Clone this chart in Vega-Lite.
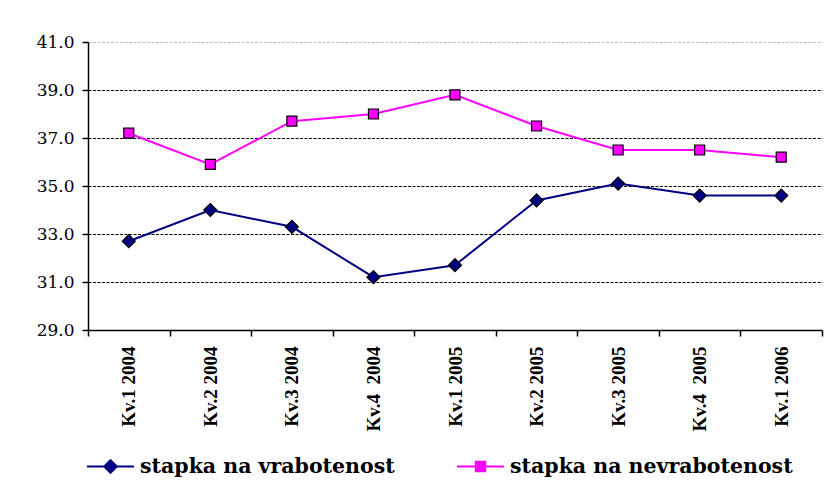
{
  "$schema": "https://vega.github.io/schema/vega-lite/v6.json",
  "width": 734,
  "height": 288,
  "autosize": {"type": "none"},
  "padding": {"left": 88, "top": 42, "right": 7, "bottom": 152},
  "background": "white",
  "config": {"view": {"stroke": null}},
  "data": {"values": [
    {"q": "Kv.1 2004", "series": "stapka na vrabotenost", "v": 32.7},
    {"q": "Kv.2 2004", "series": "stapka na vrabotenost", "v": 34.0},
    {"q": "Kv.3 2004", "series": "stapka na vrabotenost", "v": 33.3},
    {"q": "Kv.4 \u00a02004", "series": "stapka na vrabotenost", "v": 31.2},
    {"q": "Kv.1 2005", "series": "stapka na vrabotenost", "v": 31.7},
    {"q": "Kv.2 2005", "series": "stapka na vrabotenost", "v": 34.4},
    {"q": "Kv.3 2005", "series": "stapka na vrabotenost", "v": 35.1},
    {"q": "Kv.4 \u00a02005", "series": "stapka na vrabotenost", "v": 34.6},
    {"q": "Kv.1 2006", "series": "stapka na vrabotenost", "v": 34.6},
    {"q": "Kv.1 2004", "series": "stapka na nevrabotenost", "v": 37.2},
    {"q": "Kv.2 2004", "series": "stapka na nevrabotenost", "v": 35.9},
    {"q": "Kv.3 2004", "series": "stapka na nevrabotenost", "v": 37.7},
    {"q": "Kv.4 \u00a02004", "series": "stapka na nevrabotenost", "v": 38.0},
    {"q": "Kv.1 2005", "series": "stapka na nevrabotenost", "v": 38.8},
    {"q": "Kv.2 2005", "series": "stapka na nevrabotenost", "v": 37.5},
    {"q": "Kv.3 2005", "series": "stapka na nevrabotenost", "v": 36.5},
    {"q": "Kv.4 \u00a02005", "series": "stapka na nevrabotenost", "v": 36.5},
    {"q": "Kv.1 2006", "series": "stapka na nevrabotenost", "v": 36.2}
  ]},
  "encoding": {
    "x": {
      "field": "q", "type": "nominal", "sort": null, "bandPosition": 0.5,
      "scale": {"type": "band", "paddingInner": 0, "paddingOuter": 0},
      "axis": {
        "title": null, "labelAngle": -90, "labelAlign": "right", "labelBaseline": "middle",
        "labelFont": "Liberation Serif", "labelFontWeight": "bold", "labelFontSize": 19,
        "labelColor": "black", "labelPadding": 10, "tickBand": "extent", "tickSize": 6,
        "tickColor": "black", "domainColor": "black", "domainWidth": 1.5, "tickWidth": 1.5,
        "grid": false, "labelLimit": 200
      }
    },
    "y": {
      "field": "v", "type": "quantitative",
      "scale": {"domain": [29, 41], "zero": false, "nice": false},
      "axis": {
        "title": null, "values": [29, 31, 33, 35, 37, 39, 41], "format": ".1f",
        "labelFont": "DejaVu Serif", "labelFontSize": 17, "labelColor": "black",
        "labelPadding": 8, "tickSize": 6, "tickColor": "black", "tickWidth": 1.5,
        "domainColor": "black", "domainWidth": 1.5,
        "grid": true, "gridDash": [3, 1.5], "gridWidth": 1.2,
        "gridColor": {"condition": {"test": "datum.value === 41", "value": "#bbbbbb"}, "value": "black"}
      }
    }
  },
  "layer": [
    {
      "mark": {"type": "line", "strokeWidth": 2},
      "encoding": {
        "color": {
          "field": "series", "type": "nominal",
          "scale": {"domain": ["stapka na vrabotenost", "stapka na nevrabotenost"], "range": ["#000080", "#ff00ff"]},
          "legend": {
            "orient": "none", "legendX": -2, "legendY": 400, "direction": "horizontal", "title": null,
            "symbolSize": 2209, "symbolStrokeWidth": 2,
            "labelFont": "DejaVu Serif", "labelFontWeight": "bold", "labelFontSize": 20.5,
            "labelColor": "black", "labelOffset": 5, "columnPadding": 58, "labelLimit": 400,
            "encode": {
              "symbols": {
                "update": {
                  "shape": {"signal": "datum.value === 'stapka na vrabotenost' ? 'M-1,0H1M0,-0.27L0.27,0L0,0.27L-0.27,0Z' : 'M-1,0H-0.2M0.2,0H1M-0.2,-0.2H0.2V0.2H-0.2Z'"},
                  "fill": {"scale": "color", "field": "value"},
                  "fillOpacity": {"value": 1}
                }
              }
            }
          }
        }
      }
    },
    {
      "transform": [{"filter": "datum.series === 'stapka na vrabotenost'"}],
      "mark": {"type": "point", "shape": "diamond", "size": 170, "filled": true, "fill": "#000080", "stroke": "black", "strokeWidth": 1.2, "opacity": 1}
    },
    {
      "transform": [{"filter": "datum.series === 'stapka na nevrabotenost'"}],
      "mark": {"type": "point", "shape": "square", "size": 100, "filled": true, "fill": "#ff00ff", "stroke": "black", "strokeWidth": 1.2, "opacity": 1}
    }
  ]
}
